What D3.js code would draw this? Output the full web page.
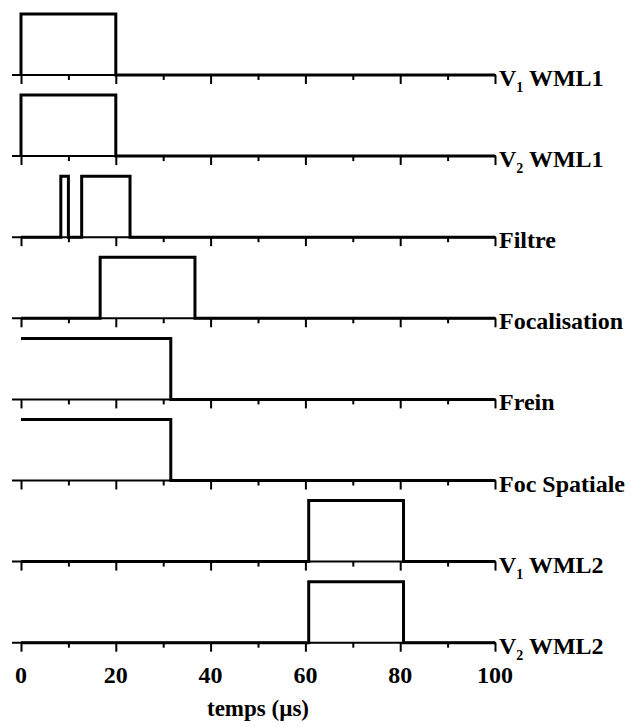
<!DOCTYPE html>
<html>
<head>
<meta charset="utf-8">
<script src="https://cdn.jsdelivr.net/npm/d3@7"></script>
<style>
  body { margin: 0; background: #fff; }
  text { font-family: "Liberation Serif", serif; font-weight: bold; fill: #000; }
</style>
</head>
<body>
<svg id="plot"></svg>
<script>
const width = 633;
const height = 727;

// channel labels ("_x" marks a subscript)
const labels = ["V_1 WML1", "V_2 WML1", "Filtre", "Focalisation", "Frein", "Foc Spatiale", "V_1 WML2", "V_2 WML2"];

// breakpoints [time µs, level] for each channel, drawn as steps
const v1wml1 = [[0,0],[0,1],[20,0],[100,0]];
const v2wml1 = [[0,0],[0,1],[20,0],[100,0]];
const filtre = [[0,0],[8.4,1],[10,0],[12.8,1],[23,0],[100,0]];
const focal  = [[0,0],[16.7,1],[36.7,0],[100,0]];
const frein  = [[0,1],[31.6,0],[100,0]];
const focSpa = [[0,1],[31.6,0],[100,0]];
const v1wml2 = [[0,0],[60.7,1],[80.7,0],[100,0]];
const v2wml2 = [[0,0],[60.7,1],[80.7,0],[100,0]];
const signals = [v1wml1, v2wml1, filtre, focal, frein, focSpa, v1wml2, v2wml2];

const tickValues = d3.range(0, 101, 10);
const xTitle = "temps (µs)";

let svg, x;
const firstBase = 75;
const panelStep = 81.1;
const pulseHeight = 61;

function main(){
  svg = d3.select('svg#plot')
  .attr('width', width)
  .attr('height', height);

  x = d3.scaleLinear().domain([0, 100]).range([21, 495]);

  signals.forEach((sig, i) => drawPanel(sig, i));
  drawBottomLabels();
}

function drawPanel(sig, i){
  let base = firstBase + i * panelStep;
  let y = d3.scaleLinear().domain([0, 1]).range([base, base - pulseHeight]);
  let g = svg.append('g').attr('class', 'panel');

  // axis with long ticks every 20, short every 10
  let axis = d3.axisBottom(x)
  .tickValues(tickValues)
  .tickSize(0)
  .tickFormat('');
  let ax = g.append('g')
  .attr('transform', `translate(0,${base})`)
  .call(axis);
  ax.select('.domain').remove();
  ax.selectAll('.tick line')
  .attr('y2', d => d % 20 === 0 ? 9 : 5)
  .attr('stroke', '#000')
  .attr('stroke-width', 2);

  g.append('line')
  .attr('x1', x(0) - 9)
  .attr('x2', x(100) + 1)
  .attr('y1', base)
  .attr('y2', base)
  .attr('stroke', '#000')
  .attr('stroke-width', 2);

  let line = d3.line()
  .x(d => x(d[0]))
  .y(d => y(d[1]))
  .curve(d3.curveStepAfter);

  g.append('path')
  .datum(sig)
  .attr('d', line)
  .attr('fill', 'none')
  .attr('stroke', '#000')
  .attr('stroke-width', 3)
  .attr('stroke-linejoin', 'miter');

  // label at the right end
  let parts = labels[i].split(/_(\d)/);
  let t = g.append('text')
  .attr('x', x(100) + 4)
  .attr('y', base + 11)
  .attr('font-size', 24);
  if (parts.length > 1){
    t.append('tspan').text(parts[0]);
    t.append('tspan').attr('font-size', 14).attr('dy', 6).text(parts[1]);
    t.append('tspan').attr('dy', -6).text(parts[2]);
  } else {
    t.text(labels[i]);
  }
}

function drawBottomLabels(){
  let base = firstBase + (signals.length - 1) * panelStep;
  svg.selectAll('.tickLabel')
  .data(tickValues.filter(d => d % 20 === 0))
  .enter()
  .append('text')
  .attr('class', 'tickLabel')
  .attr('x', d => x(d))
  .attr('y', base + 40)
  .attr('text-anchor', 'middle')
  .attr('font-size', 24)
  .text(d => d);

  svg.append('text')
  .attr('x', (x(0) + x(100)) / 2)
  .attr('y', 716)
  .attr('text-anchor', 'middle')
  .attr('font-size', 23)
  .text(xTitle);
}

document.addEventListener('DOMContentLoaded', main);
</script>
</body>
</html>
